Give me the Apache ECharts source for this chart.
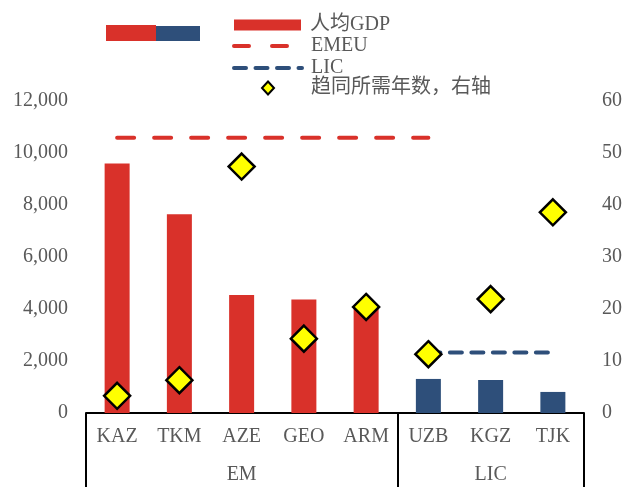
<!DOCTYPE html>
<html>
<head>
<meta charset="utf-8">
<script src="https://cdn.jsdelivr.net/npm/echarts@6/dist/echarts.min.js"></script>
<style>
  html, body { margin: 0; padding: 0; background: #fff; }
  #chart { width: 626px; height: 487px; }
</style>
</head>
<body>
<div id="chart"></div>
<script>
// data
const categories = ['KAZ', 'TKM', 'AZE', 'GEO', 'ARM', 'UZB', 'KGZ', 'TJK'];
const groups = ['EM', 'EM', 'EM', 'EM', 'EM', 'LIC', 'LIC', 'LIC'];
const gdpPerCapita = [9600, 7640, 4540, 4370, 4090, 1310, 1270, 810];
const emeuLevel = [10590, 10590, 10590, 10590, 10590, 10590, null, null];
const licLevel = [null, null, null, null, null, 2330, 2330, 2330];
const yearsToConverge = [3.3, 6.3, 47.4, 14.3, 20.4, 11.3, 21.9, 38.6];
const leftTicks = [0, 12000, 2000];
const rightTicks = [0, 60, 10];

const RED = '#D9312A';
const BLUE = '#2E4F7A';
const GREY = '#595959';
const SERIF = 'Liberation Serif';
const FONT = 'Liberation Serif, Noto Sans CJK SC, serif';

// group boundaries and centres on a 0..n scale
const groupNames = [];
const bounds = [0];
groups.forEach((g, i) => {
  if (i > 0 && g !== groups[i - 1]) bounds.push(i);
  if (!groupNames.includes(g)) groupNames.push(g);
});
bounds.push(categories.length);
const groupCentres = groupNames.map((g, k) => (bounds[k] + bounds[k + 1]) / 2);

const chart = echarts.init(document.getElementById('chart'));

const legendBase = {
  orient: 'vertical',
  padding: 0,
  selectedMode: false,
  textStyle: { fontFamily: FONT, fontSize: 20, color: GREY, lineHeight: 20, padding: [0, 0, 0, 4] }
};
const axisText = { fontFamily: SERIF, fontSize: 20, color: GREY };

const option = {
  animation: false,
  textStyle: { fontFamily: FONT },
  grid: { left: 86, right: 42, top: 101, bottom: 74 },
  graphic: [
    { type: 'rect', shape: { x: 106, y: 25, width: 50, height: 16 }, style: { fill: RED } },
    { type: 'rect', shape: { x: 156, y: 26, width: 44, height: 15 }, style: { fill: BLUE } }
  ],
  legend: [
    Object.assign({}, legendBase, {
      left: 234, top: 15, itemWidth: 67, itemHeight: 11,
      data: [{ name: '人均GDP', icon: 'rect', itemStyle: { color: RED } }]
    }),
    Object.assign({}, legendBase, {
      left: 232, top: 36, itemWidth: 60, itemHeight: 4,
      textStyle: Object.assign({}, legendBase.textStyle, { padding: [0, 0, 0, 12] }),
      lineStyle: { color: RED, width: 4, type: [15, 23], cap: 'round' },
      itemStyle: { opacity: 0 },
      data: ['EMEU']
    }),
    Object.assign({}, legendBase, {
      left: 232, top: 58, itemWidth: 68, itemHeight: 4,
      textStyle: Object.assign({}, legendBase.textStyle, { padding: [0, 0, 0, 4] }),
      lineStyle: { color: BLUE, width: 4, type: [12, 9.5], cap: 'round' },
      itemStyle: { opacity: 0 },
      data: ['LIC']
    }),
    Object.assign({}, legendBase, {
      left: 261, top: 78, itemWidth: 12, itemHeight: 13,
      textStyle: Object.assign({}, legendBase.textStyle, { padding: [0, 0, 0, 32] }),
      itemStyle: { color: '#FFFF00', borderColor: '#000', borderWidth: 2 },
      data: [{ name: '趋同所需年数，右轴', icon: 'diamond' }]
    })
  ],
  xAxis: [
    {
      type: 'category',
      data: categories,
      axisLine: { lineStyle: { color: '#000', width: 2 } },
      axisTick: { show: false },
      axisLabel: Object.assign({ margin: 14 }, axisText)
    },
    {
      type: 'value',
      position: 'bottom',
      min: 0,
      max: categories.length,
      axisLine: { show: false },
      splitLine: { show: false },
      axisTick: { show: true, customValues: bounds, length: 74, lineStyle: { color: '#000', width: 2 } },
      axisLabel: Object.assign({
        customValues: groupCentres,
        formatter: v => groupNames[groupCentres.indexOf(v)] || '',
        margin: 52
      }, axisText)
    }
  ],
  yAxis: [
    {
      type: 'value',
      min: leftTicks[0], max: leftTicks[1], interval: leftTicks[2],
      splitLine: { show: false },
      axisLine: { show: false },
      axisTick: { show: false },
      axisLabel: Object.assign({ margin: 18, formatter: v => v.toLocaleString('en-US') }, axisText)
    },
    {
      type: 'value',
      min: rightTicks[0], max: rightTicks[1], interval: rightTicks[2],
      splitLine: { show: false },
      axisLine: { show: false },
      axisTick: { show: false },
      axisLabel: Object.assign({ margin: 18 }, axisText)
    }
  ],
  series: [
    {
      name: '人均GDP',
      type: 'bar',
      barWidth: 25,
      data: gdpPerCapita.map((v, i) => ({
        value: v,
        itemStyle: { color: groups[i] === 'EM' ? RED : BLUE }
      })),
      z: 1
    },
    {
      name: 'EMEU',
      type: 'line',
      data: emeuLevel,
      symbol: 'none',
      lineStyle: { color: RED, width: 4, type: [17, 20], cap: 'round' },
      itemStyle: { color: RED },
      z: 2
    },
    {
      name: 'LIC',
      type: 'line',
      data: licLevel,
      symbol: 'none',
      lineStyle: { color: BLUE, width: 4, type: [12, 9.5], cap: 'round' },
      itemStyle: { color: BLUE },
      z: 2
    },
    {
      name: '趋同所需年数，右轴',
      type: 'scatter',
      yAxisIndex: 1,
      data: yearsToConverge,
      symbol: 'diamond',
      symbolSize: 26,
      itemStyle: { color: '#FFFF00', borderColor: '#000', borderWidth: 2.5, opacity: 1 },
      z: 3
    }
  ]
};

chart.setOption(option);
</script>
</body>
</html>
